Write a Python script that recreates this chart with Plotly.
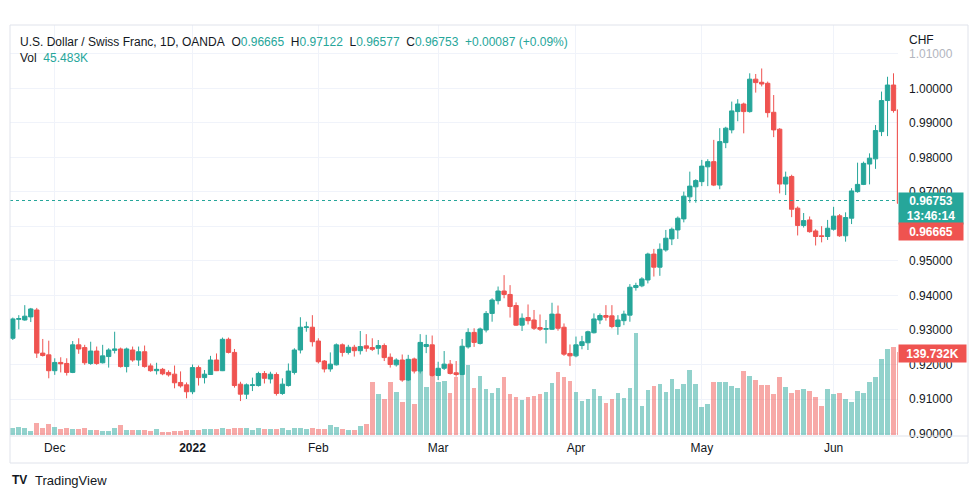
import plotly.graph_objects as go
import pandas as pd

# ---------------- data ----------------
dates = [d.strftime("%Y-%m-%d") for d in pd.bdate_range("2021-11-22", periods=150)]

opens = [
 0.9276,0.9331,0.9329,0.9338,0.9358,0.9233,0.9228,0.9182,0.9206,0.9203,
 0.9177,0.9257,0.9249,0.9203,0.9239,0.9205,0.9223,0.9241,0.9245,0.9194,
 0.9242,0.9213,0.9237,0.9196,0.9182,0.9186,0.9177,0.9172,0.9148,0.9141,
 0.9121,0.9191,0.9162,0.9171,0.9213,0.9182,0.9273,0.9235,0.9143,0.9114,
 0.9139,0.9139,0.9174,0.9158,0.9171,0.9116,0.9139,0.9177,0.9242,0.9307,
 0.9308,0.9268,0.9210,0.9187,0.9199,0.9257,0.9235,0.9250,0.9240,0.9254,
 0.9249,0.9247,0.9255,0.9221,0.9199,0.9213,0.9155,0.9216,0.9181,0.9252,
 0.9257,0.9168,0.9189,0.9201,0.9176,0.9171,0.9251,0.9293,0.9261,0.9300,
 0.9348,0.9385,0.9413,0.9403,0.9371,0.9314,0.9336,0.9329,0.9307,0.9302,
 0.9302,0.9346,0.9308,0.9232,0.9225,0.9255,0.9263,0.9292,0.9329,0.9342,
 0.9341,0.9310,0.9327,0.9343,0.9423,0.9428,0.9445,0.9520,0.9482,0.9532,
 0.9564,0.9590,0.9622,0.9686,0.9715,0.9730,0.9773,0.9788,0.9720,0.9843,
 0.9880,0.9933,0.9955,0.9933,1.0027,1.0018,1.0015,0.9931,0.9882,0.9723,
 0.9745,0.9653,0.9603,0.9619,0.9587,0.9573,0.9571,0.9592,0.9631,0.9573,
 0.9624,0.9701,0.9722,0.9781,0.9796,0.9875,0.9965,1.0010,0.9938,0.96665]

highs = [
 0.9336,0.9343,0.9372,0.9364,0.9364,0.9274,0.9269,0.9218,0.9221,0.9218,
 0.9268,0.9276,0.9257,0.9266,0.9252,0.9257,0.9247,0.9295,0.9249,0.9249,
 0.9252,0.9252,0.9255,0.9203,0.9205,0.9190,0.9183,0.9197,0.9180,0.9148,
 0.9200,0.9197,0.9184,0.9225,0.9232,0.9278,0.9278,0.9245,0.9150,0.9145,
 0.9162,0.9179,0.9181,0.9179,0.9177,0.9160,0.9203,0.9247,0.9337,0.9324,
 0.9343,0.9276,0.9213,0.9235,0.9261,0.9261,0.9257,0.9257,0.9297,0.9288,
 0.9276,0.9271,0.9261,0.9232,0.9218,0.9229,0.9228,0.9220,0.9288,0.9286,
 0.9284,0.9208,0.9239,0.9213,0.9210,0.9274,0.9305,0.9305,0.9307,0.9355,
 0.9392,0.9426,0.9459,0.9430,0.9380,0.9348,0.9374,0.9358,0.9345,0.9329,
 0.9379,0.9371,0.9319,0.9258,0.9281,0.9283,0.9298,0.9348,0.9348,0.9372,
 0.9372,0.9343,0.9356,0.9433,0.9437,0.9453,0.9524,0.9535,0.9551,0.9590,
 0.9597,0.9629,0.9701,0.9759,0.9737,0.9793,0.9795,0.9851,0.9885,0.9889,
 0.9962,0.9969,0.9959,1.0044,1.0042,1.0058,1.0020,0.9981,0.9885,0.9759,
 0.9750,0.9658,0.9639,0.9629,0.9592,0.9601,0.9619,0.9657,0.9636,0.9641,
 0.9711,0.9785,0.9788,0.9812,0.9894,0.9991,1.0034,1.0044,0.9950,0.97122]

lows = [
 0.9271,0.9302,0.9327,0.9323,0.9219,0.9223,0.9160,0.9170,0.9177,0.9168,
 0.9175,0.9231,0.9199,0.9199,0.9199,0.9203,0.9191,0.9232,0.9191,0.9177,
 0.9208,0.9196,0.9191,0.9179,0.9171,0.9169,0.9165,0.9131,0.9133,0.9102,
 0.9114,0.9139,0.9145,0.9170,0.9181,0.9181,0.9232,0.9133,0.9094,0.9100,
 0.9123,0.9136,0.9145,0.9145,0.9110,0.9112,0.9136,0.9171,0.9232,0.9295,
 0.9252,0.9203,0.9177,0.9179,0.9197,0.9223,0.9229,0.9223,0.9229,0.9237,
 0.9239,0.9229,0.9210,0.9191,0.9194,0.9150,0.9152,0.9174,0.9174,0.9233,
 0.9165,0.9155,0.9184,0.9171,0.9165,0.9169,0.9246,0.9251,0.9258,0.9293,
 0.9324,0.9374,0.9392,0.9336,0.9312,0.9297,0.9316,0.9300,0.9297,0.9261,
 0.9300,0.9298,0.9225,0.9196,0.9221,0.9244,0.9242,0.9290,0.9317,0.9327,
 0.9305,0.9286,0.9314,0.9324,0.9414,0.9424,0.9435,0.9455,0.9457,0.9527,
 0.9546,0.9564,0.9612,0.9669,0.9669,0.9717,0.9717,0.9717,0.9708,0.9827,
 0.9870,0.9905,0.9870,0.9930,0.9988,1.0006,0.9916,0.9859,0.9696,0.9691,
 0.9627,0.9574,0.9597,0.9582,0.9545,0.9554,0.9561,0.9588,0.9570,0.9556,
 0.9607,0.9698,0.9720,0.9722,0.9767,0.9862,0.9862,0.9930,0.9655,0.96577]

closes = [
 0.9332,0.9333,0.9340,0.9361,0.9233,0.9226,0.9182,0.9206,0.9202,0.9177,
 0.9257,0.9245,0.9205,0.9239,0.9203,0.9225,0.9242,0.9245,0.9194,0.9245,
 0.9213,0.9237,0.9194,0.9182,0.9186,0.9173,0.9170,0.9147,0.9138,0.9121,
 0.9191,0.9162,0.9172,0.9213,0.9182,0.9273,0.9235,0.9139,0.9114,0.9141,
 0.9141,0.9174,0.9160,0.9172,0.9116,0.9143,0.9181,0.9242,0.9308,0.9309,
 0.9266,0.9208,0.9187,0.9201,0.9257,0.9235,0.9250,0.9240,0.9252,0.9247,
 0.9244,0.9255,0.9220,0.9200,0.9213,0.9155,0.9215,0.9181,0.9264,0.9258,
 0.9168,0.9189,0.9201,0.9174,0.9171,0.9253,0.9293,0.9264,0.9303,0.9348,
 0.9387,0.9413,0.9403,0.9368,0.9314,0.9334,0.9327,0.9305,0.9302,0.9304,
 0.9346,0.9305,0.9230,0.9225,0.9257,0.9266,0.9295,0.9332,0.9342,0.9337,
 0.9310,0.9329,0.9346,0.9424,0.9429,0.9448,0.9520,0.9482,0.9534,0.9566,
 0.9592,0.9624,0.9688,0.9717,0.9733,0.9775,0.9788,0.9720,0.9846,0.9885,
 0.9935,0.9955,0.9933,1.0027,1.0017,1.0013,0.9930,0.9880,0.9723,0.9743,
 0.9650,0.9603,0.9617,0.9585,0.9571,0.9571,0.9595,0.9630,0.9573,0.9626,
 0.9703,0.9722,0.9783,0.9798,0.9878,0.9965,1.0010,0.9936,0.9667,0.96753]

volumes_k = [
 10.6,12.7,10.6,6.3,19.0,10.6,17.5,12.0,9.0,11.6,
 9.0,9.5,10.6,7.4,7.9,6.3,6.9,11.6,15.9,7.4,
 7.9,7.9,7.4,6.3,9.0,5.3,5.3,6.3,6.3,7.9,
 7.9,7.9,9.5,9.5,9.0,10.6,9.5,10.6,10.6,10.6,
 7.9,10.6,9.5,9.5,9.0,10.6,7.9,10.6,10.6,9.5,
 10.6,9.0,9.0,15.9,12.2,9.5,7.9,7.9,14.3,17.5,
 83.6,65.1,57.1,83.6,68.3,52.4,87.3,49.2,148.0,76.2,
 93.7,84.1,85.2,66.1,92.6,100.0,111.0,74.6,93.7,73.0,
 66.1,74.6,92.0,65.0,60.3,55.6,60.3,61.9,65.0,68.3,
 82.5,100.0,92.0,85.7,68.3,54.0,57.1,73.0,61.9,50.8,
 57.1,66.7,59.3,74.6,162.0,46.0,71.4,77.8,81.0,68.3,
 88.4,73.0,81.0,103.0,81.0,45.0,49.2,84.0,84.0,84.0,
 77.8,74.6,101.6,93.7,87.3,79.4,79.4,65.0,92.0,76.2,
 66.7,71.4,73.0,69.8,60.3,46.0,73.0,65.0,66.7,57.1,
 52.4,69.8,66.7,84.0,92.0,120.6,136.5,139.7,132.0,45.483]

month_ticks = ["2021-12-01", "2022-01-03", "2022-02-01", "2022-03-01",
               "2022-04-01", "2022-05-02", "2022-06-01"]
month_labels = ["Dec", "<b>2022</b>", "Feb", "Mar", "Apr", "May", "Jun"]

price_ticks = [0.90, 0.91, 0.92, 0.93, 0.94, 0.95, 0.96, 0.97, 0.98, 0.99, 1.00, 1.01]

last_close = 0.96753
last_open = 0.96665
change_text = "+0.00087 (+0.09%)"
vol_label = "139.732K"

# ---------------- style ----------------
UP = "#26a69a"
DOWN = "#ef5350"
UP_V = "rgba(38,166,154,0.5)"
DOWN_V = "rgba(239,83,80,0.5)"
GRID = "#f0f3fa"
TXT = "#131722"
FONT = "Liberation Sans, Arial, sans-serif"

W, H = 979, 498
L, R, T, B = 10, 81, 25, 62
PW, PH = W - L - R, H - T - B


def pxx(x):
    return (x - L) / PW


def pyy(y):
    return (H - B - y) / PH


vol_colors = [UP_V if c >= o else DOWN_V for o, c in zip(opens, closes)]

fig = go.Figure()
fig.add_trace(go.Bar(x=dates, y=volumes_k, marker_color=vol_colors,
                     marker_line_width=0, width=0.78, yaxis="y",
                     hoverinfo="skip", showlegend=False))
fig.add_trace(go.Candlestick(x=dates, open=opens, high=highs, low=lows, close=closes,
                             yaxis="y2",
                             increasing=dict(line=dict(color=UP, width=1), fillcolor=UP),
                             decreasing=dict(line=dict(color=DOWN, width=1), fillcolor=DOWN),
                             whiskerwidth=0, hoverinfo="skip", showlegend=False))

# 0.96 label sits hidden behind the price tags in the reference
price_text = []
for v in price_ticks:
    s = f"{v:.5f}"
    if v >= 1.01:
        s = f"<span style='color:#b2b5be'>{s}</span>"
    if abs(v - 0.96) < 1e-9:
        s = ""
    price_text.append(s)

fig.update_layout(
    width=W, height=H,
    margin=dict(l=L, r=R, t=T, b=B),
    paper_bgcolor="white", plot_bgcolor="white",
    font=dict(family=FONT, size=12, color=TXT),
    boxgap=0.15, boxgroupgap=0.15,
    bargap=0,
    xaxis=dict(type="category", range=[-0.467, 147.75],
               tickmode="array", tickvals=month_ticks, ticktext=month_labels,
               showgrid=True, gridcolor=GRID, gridwidth=1,
               ticks="", ticklabelstandoff=3, showline=False, zeroline=False,
               rangeslider=dict(visible=False), tickfont=dict(size=12, color=TXT)),
    yaxis=dict(range=[-1.6, 650.8], showgrid=False, showticklabels=False,
               zeroline=False, fixedrange=True),
    yaxis2=dict(overlaying="y", side="right", range=[0.899275, 1.0184],
                tickmode="array", tickvals=price_ticks, ticktext=price_text,
                showgrid=True, gridcolor=GRID, gridwidth=1, zeroline=False,
                ticks="", ticklabelstandoff=10, showline=False,
                tickfont=dict(size=12, color=TXT)),
)

shapes = [
    # last price dotted line
    dict(type="line", xref="paper", yref="y2", x0=0, x1=1, y0=last_close, y1=last_close,
         line=dict(color=UP, width=1, dash="dot")),
    # frame
    dict(type="rect", xref="paper", yref="paper", x0=0, x1=pxx(968), y0=pyy(463), y1=pyy(25),
         line=dict(color="#e0e3eb", width=1)),
    dict(type="line", xref="paper", yref="paper", x0=0, x1=pxx(968), y0=0, y1=0,
         line=dict(color="#e0e3eb", width=1)),
]
fig.update_layout(shapes=shapes)

NB = "\u00a0"
ann = []
hdr_y = pyy(42)
hdr = "U.S. Dollar / Swiss Franc, 1D, OANDA" + NB * 2
for lab, val in [("O", opens[-1]), ("H", highs[-1]), ("L", lows[-1]), ("C", closes[-1])]:
    hdr += f"{lab}<span style='color:{UP}'>{val:.5f}</span>" + NB * 2
hdr += f"<span style='color:{UP}'>{change_text}</span>"
ann.append(dict(x=pxx(18), y=hdr_y, xref="paper", yref="paper", xanchor="left", yanchor="middle",
                showarrow=False, text=hdr, font=dict(size=12, color=TXT)))
ann.append(dict(x=pxx(18), y=pyy(58), xref="paper", yref="paper", xanchor="left", yanchor="middle",
                showarrow=False,
                text=f"Vol{NB}{NB}<span style='color:{UP}'>{volumes_k[-1]:.3f}K</span>",
                font=dict(size=12, color=TXT)))
# currency label
ann.append(dict(x=pxx(907), y=pyy(40), xref="paper", yref="paper", xanchor="left", yanchor="middle",
                showarrow=False, text="CHF", font=dict(size=12, color=TXT)))
# last price label
ann.append(dict(x=pxx(898), y=pyy(208.5), xref="paper", yref="paper", xanchor="left", yanchor="middle",
                showarrow=False, text=f"<b>{last_close:.5f}</b><br><b>13:46:14</b>",
                font=dict(size=12, color="white"), bgcolor=UP, width=60, height=27,
                borderpad=2, align="center"))
ann.append(dict(x=pxx(898), y=pyy(232), xref="paper", yref="paper", xanchor="left", yanchor="middle",
                showarrow=False, text=f"<b>{last_open:.5f}</b>",
                font=dict(size=12, color="white"), bgcolor=DOWN, width=60, height=13,
                borderpad=2, align="center"))
ann.append(dict(x=pxx(898), y=pyy(353.5), xref="paper", yref="paper", xanchor="left", yanchor="middle",
                showarrow=False, text=f"<b>{vol_label}</b>",
                font=dict(size=12, color="white"), bgcolor=DOWN, width=63, height=13,
                borderpad=2, align="center"))
# TradingView footer
ann.append(dict(x=pxx(10), y=pyy(480), xref="paper", yref="paper", xanchor="left", yanchor="middle",
                showarrow=False, text="<b>TV</b>", font=dict(size=12, color=TXT)))
ann.append(dict(x=pxx(33), y=pyy(480), xref="paper", yref="paper", xanchor="left", yanchor="middle",
                showarrow=False, text="TradingView", font=dict(size=13, color=TXT)))
fig.update_layout(annotations=ann)

fig.write_html("out.html", config={"displayModeBar": False},
               post_script="document.body.style.margin='0px';")
